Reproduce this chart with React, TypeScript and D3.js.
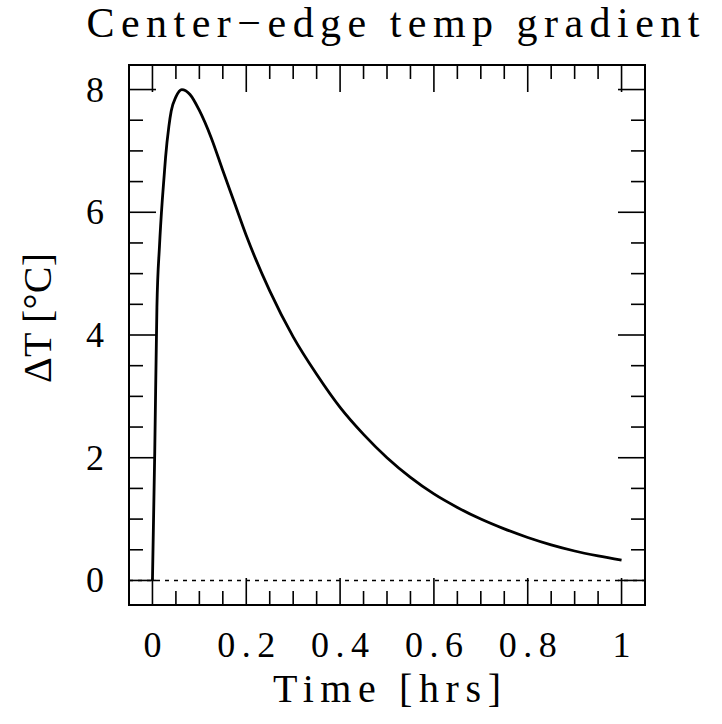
import React from "react";
import * as d3 from "d3";

const timeHrs = [0, 0.0049, 0.0095, 0.015, 0.021, 0.025, 0.028, 0.035, 0.04, 0.05, 0.0625, 0.08, 0.1, 0.125, 0.15, 0.175, 0.2, 0.25, 0.3, 0.35, 0.4, 0.45, 0.5, 0.55, 0.6, 0.65, 0.7, 0.75, 0.8, 0.85, 0.9, 0.95, 1.0];
const deltaT = [0, 2.1, 4.45, 5.45, 6.2, 6.6, 6.9, 7.4, 7.65, 7.88, 8.0, 7.92, 7.66, 7.22, 6.68, 6.15, 5.62, 4.72, 3.97, 3.36, 2.82, 2.38, 2.0, 1.68, 1.41, 1.19, 1.0, 0.84, 0.70, 0.58, 0.48, 0.40, 0.33];
const xTicks = [0, 0.2, 0.4, 0.6, 0.8, 1];
const xTickLabels = ["0", "0.2", "0.4", "0.6", "0.8", "1"];
const yTicks = [0, 2, 4, 6, 8];
const yTickLabels = ["0", "2", "4", "6", "8"];

const W = 722, H = 724;
const L = 129, R = 645, T = 65, B = 605;
const FONT = "Liberation Serif, Tinos, Times New Roman, serif";

export default function App() {
  const x = d3.scaleLinear().domain([-0.05, 1.05]).range([L, R]);
  const y = d3.scaleLinear().domain([-0.4, 8.4]).range([B, T]);
  const data = timeHrs.map((t, i) => [t, deltaT[i]] as [number, number]);
  const line = d3.line<[number, number]>().x(d => x(d[0])).y(d => y(d[1])).curve(d3.curveMonotoneX);

  const xMinor = d3.range(0, 21).map(i => i * 0.05).filter(v => !xTicks.some(t => Math.abs(t - v) < 1e-6));
  const yMinor = d3.range(0, 17).map(i => i * 0.5).filter(v => !yTicks.some(t => Math.abs(t - v) < 1e-6));
  const major = 27, minor = 14;

  return (
    <svg width={W} height={H} style={{ position: "absolute", left: 0, top: 0, background: "#fff" }}>
      <rect x={0} y={0} width={W} height={H} fill="#fff" />
      <g stroke="#000" strokeWidth={1.6}>
        {xTicks.map(t => (
          <g key={"xm" + t}>
            <line x1={x(t)} x2={x(t)} y1={B} y2={B - major} />
            <line x1={x(t)} x2={x(t)} y1={T} y2={T + major} />
          </g>
        ))}
        {xMinor.map(t => (
          <g key={"xn" + t}>
            <line x1={x(t)} x2={x(t)} y1={B} y2={B - minor} />
            <line x1={x(t)} x2={x(t)} y1={T} y2={T + minor} />
          </g>
        ))}
        {yTicks.map(v => (
          <g key={"ym" + v}>
            <line x1={L} x2={L + major} y1={y(v)} y2={y(v)} />
            <line x1={R} x2={R - major} y1={y(v)} y2={y(v)} />
          </g>
        ))}
        {yMinor.map(v => (
          <g key={"yn" + v}>
            <line x1={L} x2={L + minor} y1={y(v)} y2={y(v)} />
            <line x1={R} x2={R - minor} y1={y(v)} y2={y(v)} />
          </g>
        ))}
      </g>
      <line x1={L} x2={R} y1={y(0)} y2={y(0)} stroke="#000" strokeWidth={1.6} strokeDasharray="4,5" />
      <rect x={L} y={T} width={R - L} height={B - T} fill="none" stroke="#000" strokeWidth={2} />
      <path d={line(data) || ""} fill="none" stroke="#000" strokeWidth={2.8} strokeLinejoin="round" />
      <g fontFamily={FONT} fontSize={36} fill="#000">
        {yTicks.map((v, i) => (
          <text key={"yl" + v} x={104} y={y(v) + 12} textAnchor="end">{yTickLabels[i]}</text>
        ))}
        {xTicks.map((t, i) => (
          <text key={"xl" + t} x={x(t)} y={657} textAnchor="middle"
            {...(xTickLabels[i].length > 1 ? { textLength: 58, lengthAdjust: "spacing" } : {})}>{xTickLabels[i]}</text>
        ))}
      </g>
      <text x={387} y={702} textAnchor="middle" fontFamily={FONT} fontSize={40} textLength={228} lengthAdjust="spacing">Time [hrs]</text>
      <text transform="translate(51,318) rotate(-90)" textAnchor="middle" fontFamily={FONT} fontSize={40} textLength={130} lengthAdjust="spacing">ΔT [°C]</text>
      <text x={393} y={37} textAnchor="middle" fontFamily={FONT} fontSize={42} textLength={613} lengthAdjust="spacing">Center−edge temp gradient</text>
    </svg>
  );
}
